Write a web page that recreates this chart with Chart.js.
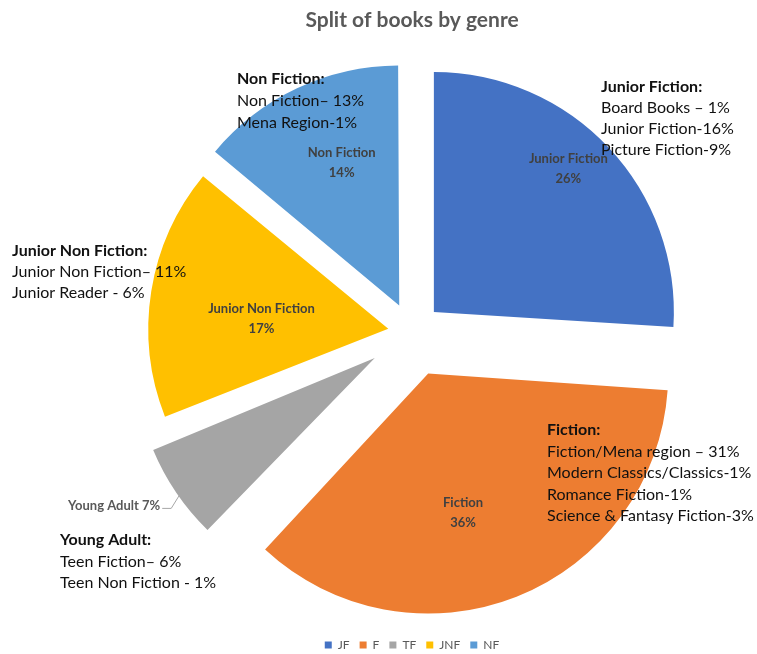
<!DOCTYPE html>
<html>
<head>
<meta charset="utf-8">
<script src="https://cdn.jsdelivr.net/npm/chart.js@4.4.0/dist/chart.umd.min.js"></script>
<style>
  html, body { margin: 0; padding: 0; background: #fff; }
  #wrap { width: 757px; height: 654px; }
</style>
</head>
<body>
<div id="wrap"><canvas id="genre"></canvas></div>
<script>
const genres = ["JF", "F", "TF", "JNF", "NF"];
const genreNames = ["Junior Fiction", "Fiction", "Young Adult", "Junior Non Fiction", "Non Fiction"];
const shares = [26, 36, 7, 17, 14];

// sub-category breakdown written next to each slice
const jfNotes = ["Junior Fiction:", "Board Books – 1%", "Junior Fiction-16%", "Picture Fiction-9%"];
const fNotes = ["Fiction:", "Fiction/Mena region – 31%", "Modern Classics/Classics-1%", "Romance Fiction-1%", "Science & Fantasy Fiction-3%"];
const yaNotes = ["Young Adult:", "Teen Fiction– 6%", "Teen Non Fiction - 1%"];
const jnfNotes = ["Junior Non Fiction:", "Junior Non Fiction– 11%", "Junior Reader - 6%"];
const nfNotes = ["Non Fiction:", "Non Fiction– 13%", "Mena Region-1%"];

const colours = ["#4472C4", "#ED7D31", "#A5A5A5", "#FFC000", "#5B9BD5"];
const pull = [30, 44, 45, 24, 30];   // how far each slice is pulled out, px
const R = 240;
const FONT = "Lato, 'Open Sans', sans-serif";

// chart.js grows small exploded slices a bit, keep them all the same size
const evenRadius = {
    id: "evenRadius",
    afterDatasetUpdate(chart, args) {
        args.meta.data.forEach(arc => {
            const t = (arc.options.offset || 0) / 4;
            const fix = 1 - Math.sin(Math.min(Math.PI, arc.circumference));
            arc.outerRadius = R - t * fix;
        });
    }
};

// [distance as part of radius, angle nudge in degrees]; null = outside label
const labelSpots = [[0.82, -3.7], [0.6, 7.6], null, [0.53, -4.5], [0.64, 3.2]];

const textBits = {
    id: "textBits",
    afterDraw(chart) {
        const ctx = chart.ctx;
        const arcs = chart.getDatasetMeta(0).data;
        ctx.save();
        ctx.textBaseline = "middle";

        arcs.forEach((arc, i) => {
            const mid = (arc.startAngle + arc.endAngle) / 2;
            const t = pull[i];
            const cx = arc.x + Math.cos(mid) * t;
            const cy = arc.y + Math.sin(mid) * t;
            const spot = labelSpots[i];
            ctx.font = "bold 13px " + FONT;
            if (spot) {
                const a = mid + spot[1] * Math.PI / 180;
                const x = cx + Math.cos(a) * R * spot[0];
                const y = cy + Math.sin(a) * R * spot[0];
                ctx.fillStyle = "#404040";
                ctx.textAlign = "center";
                ctx.fillText(genreNames[i], x, y - 10);
                ctx.fillText(shares[i] + "%", x, y + 10);
            } else {
                // leader line for the thin slice
                const ex = cx + Math.cos(mid) * R * 0.96;
                const ey = cy + Math.sin(mid) * R * 0.96;
                ctx.strokeStyle = "#a6a6a6";
                ctx.lineWidth = 1;
                ctx.beginPath();
                ctx.moveTo(ex, ey);
                ctx.lineTo(ex - 13, ey + 21);
                ctx.lineTo(ex - 22, ey + 21);
                ctx.stroke();
                ctx.fillStyle = "#595959";
                ctx.textAlign = "right";
                ctx.fillText(genreNames[i] + " " + shares[i] + "%", ex - 24, ey + 18);
            }
        });

        const blocks = [
            [jfNotes, 601, 87, 21],
            [nfNotes, 237, 79, 22],
            [jnfNotes, 12, 251, 21],
            [fNotes, 547, 430, 21.5],
            [yaNotes, 60, 540, 21.5]
        ];
        ctx.textAlign = "left";
        ctx.fillStyle = "#111";
        blocks.forEach(([lines, x, y, step]) => {
            lines.forEach((line, k) => {
                ctx.font = (k === 0 ? "bold " : "") + "16px " + FONT;
                ctx.fillText(line, x, y + k * step);
            });
        });
        ctx.restore();
    }
};

new Chart(document.getElementById("genre"), {
    type: "pie",
    data: {
        labels: genres,
        datasets: [{
            data: shares,
            backgroundColor: colours,
            borderWidth: 0,
            offset: pull.map(p => p * 4),
            clip: false
        }]
    },
    options: {
        responsive: true,
        maintainAspectRatio: false,
        animation: false,
        radius: R,
        layout: { padding: { left: 67, right: 0, top: 0, bottom: -7 } },
        plugins: {
            title: {
                display: true,
                text: "Split of books by genre",
                color: "#595959",
                font: { family: FONT, size: 21, weight: "bold" },
                padding: { top: 8, bottom: 3 }
            },
            legend: {
                position: "bottom",
                labels: {
                    boxWidth: 7,
                    boxHeight: 7,
                    padding: 10,
                    color: "#595959",
                    font: { family: FONT, size: 12 }
                }
            },
            tooltip: { enabled: false }
        }
    },
    plugins: [evenRadius, textBits]
});
</script>
</body>
</html>
